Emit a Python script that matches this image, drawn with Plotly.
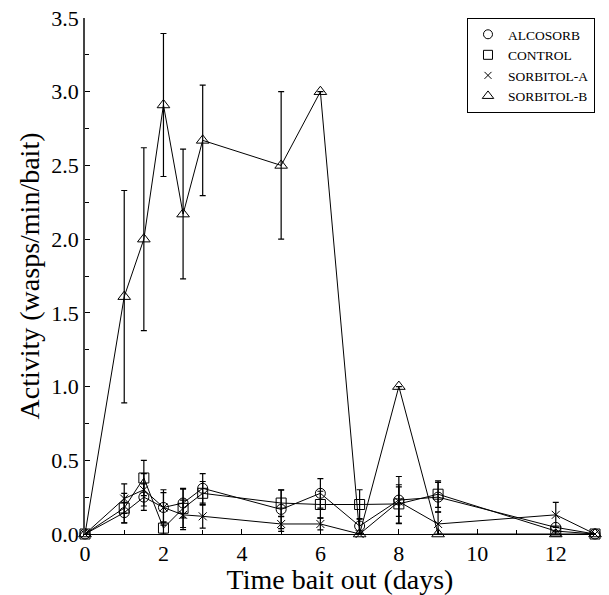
import plotly.graph_objects as go

days = [0, 1, 1.5, 2, 2.5, 3, 5, 6, 7, 8, 9, 12, 13]

alcosorb = [0, 0.145, 0.25, 0.18, 0.21, 0.31, 0.167, 0.276, 0.054, 0.23, 0.25, 0.045, 0]
alcosorb_err = [0, 0.07, 0.09, 0.12, 0.10, 0.10, 0.13, 0.10, 0.05, 0.16, 0.10, 0, 0]

control = [0, 0.176, 0.38, 0.04, 0.174, 0.276, 0.21, 0.20, 0.20, 0.204, 0.27, 0.02, 0]
control_err = [0, 0.10, 0.12, 0.04, 0.13, 0.08, 0.09, 0.09, 0.10, 0.13, 0.09, 0, 0]

sorbitol_a = [0, 0.24, 0.30, 0.18, 0.13, 0.12, 0.068, 0.068, 0, 0.22, 0.068, 0.13, 0]
sorbitol_a_err = [0, 0.10, 0.11, 0.10, 0.10, 0.08, 0.05, 0.04, 0, 0.10, 0.08, 0.085, 0]

sorbitol_b = [0, 1.61, 2.0, 2.91, 2.17, 2.67, 2.5, 3.0, 0, 1.0, 0, 0, 0]
sorbitol_b_err = [0, 0.72, 0.62, 0.485, 0.44, 0.375, 0.5, 0, 0, 0, 0, 0, 0]

series = [
    ("ALCOSORB", alcosorb, alcosorb_err, "circle-open", 10),
    ("CONTROL", control, control_err, "square-open", 10),
    ("SORBITOL-A", sorbitol_a, sorbitol_a_err, "x-thin-open", 8),
    ("SORBITOL-B", sorbitol_b, sorbitol_b_err, "triangle-up-open", 11),
]

FONT = "Liberation Serif, Times New Roman, serif"

fig = go.Figure()
for name, vals, errs, sym, size in series:
    fig.add_trace(go.Scatter(
        x=days, y=vals, mode="lines+markers", name=name, showlegend=False,
        line=dict(color="black", width=1),
        marker=dict(symbol=sym, size=size, color="black", line=dict(color="black", width=1)),
        error_y=dict(type="data", array=errs, visible=True, color="black", thickness=1.2, width=3),
        cliponaxis=False,
    ))
for name, vals, errs, sym, size in series:
    fig.add_trace(go.Scatter(
        x=[None], y=[None], mode="markers", name=name, showlegend=True,
        marker=dict(symbol=sym, size=size - 1, color="black", line=dict(color="black", width=1)),
    ))

fig.update_layout(
    width=609, height=595,
    margin=dict(l=85, r=14, t=18, b=61),
    paper_bgcolor="white", plot_bgcolor="white",
    font=dict(family=FONT, color="black", size=22),
    showlegend=True,
    legend=dict(
        x=0.749, y=1.0, xanchor="left", yanchor="top",
        bordercolor="black", borderwidth=1, bgcolor="white",
        font=dict(family=FONT, size=13.5, color="black"),
        itemwidth=30, tracegroupgap=0,
    ),
    xaxis=dict(
        range=[0, 13], showgrid=False, zeroline=False, automargin=False,
        showline=True, linecolor="black", linewidth=1,
        ticks="inside", ticklen=5, tickcolor="black",
        tickmode="array", tickvals=[0, 2, 4, 6, 8, 10, 12],
        minor=dict(ticks="inside", ticklen=4, dtick=1, tickcolor="black", showgrid=False),
        tickfont=dict(size=22),
        title=dict(text="Time bait out (days)", font=dict(size=28), standoff=0),
    ),
    yaxis=dict(
        range=[0, 3.5], showgrid=False, zeroline=False, automargin=False,
        showline=True, linecolor="#444", linewidth=1.5,
        ticks="inside", ticklen=5, tickcolor="black",
        tickmode="array", tickvals=[0, 0.5, 1.0, 1.5, 2.0, 2.5, 3.0, 3.5],
        ticktext=["0.0", "0.5", "1.0", "1.5", "2.0", "2.5", "3.0", "3.5"],
        minor=dict(ticks="inside", ticklen=4, dtick=0.25, tickcolor="black", showgrid=False),
        tickfont=dict(size=22),
        title=dict(text="Activity (wasps/min/bait)", font=dict(size=28), standoff=4),
    ),
)

fig.write_html("out.html")
